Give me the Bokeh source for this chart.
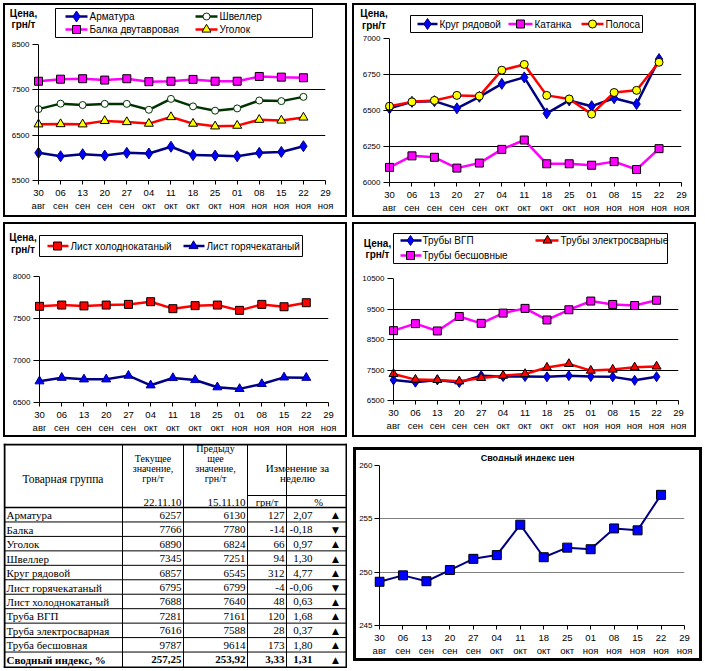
from bokeh.plotting import figure
from bokeh.layouts import row, column
from bokeh.models import Range1d, FixedTicker, Spacer, Plot, Span
from bokeh.core.properties import value
from bokeh.embed import file_html
from bokeh.resources import INLINE

# ---------------- data ----------------
dates = ["30\nавг", "06\nсен", "13\nсен", "20\nсен", "27\nсен", "04\nокт", "11\nокт",
         "18\nокт", "25\nокт", "01\nноя", "08\nноя", "15\nноя", "22\nноя", "29\nноя"]

armatura = [6110, 6035, 6080, 6050, 6110, 6095, 6245, 6060, 6050, 6035, 6110, 6130, 6257]
shveller = [7075, 7195, 7165, 7190, 7190, 7060, 7300, 7135, 7040, 7090, 7265, 7251, 7345]
balka = [7690, 7735, 7745, 7715, 7745, 7680, 7690, 7730, 7690, 7690, 7795, 7780, 7766]
ugolok = [6740, 6745, 6740, 6815, 6790, 6755, 6900, 6755, 6695, 6710, 6840, 6824, 6890]

krug = [6515, 6560, 6565, 6515, 6595, 6685, 6730, 6480, 6570, 6530, 6585, 6545, 6857]
katanka = [6105, 6185, 6175, 6100, 6135, 6230, 6295, 6130, 6130, 6120, 6145, 6090, 6235]
polosa = [6530, 6560, 6570, 6605, 6600, 6780, 6820, 6605, 6580, 6475, 6625, 6640, 6835]

list_hol = [7645, 7660, 7650, 7660, 7668, 7700, 7617, 7653, 7660, 7597, 7668, 7640, 7688]
list_gor = [6753, 6795, 6776, 6776, 6820, 6705, 6792, 6768, 6682, 6662, 6721, 6799, 6795]

truby_vgp = [7175, 7100, 7175, 7090, 7315, 7285, 7285, 7275, 7315, 7285, 7275, 7161, 7281]
truby_el = [7370, 7185, 7175, 7130, 7240, 7315, 7370, 7580, 7700, 7480, 7515, 7588, 7616]
truby_bes = [8790, 9020, 8780, 9255, 9030, 9365, 9520, 9140, 9475, 9760, 9650, 9614, 9787]

index_vals = [249.1, 249.7, 249.15, 250.2, 251.25, 251.6, 254.45, 251.4, 252.3, 252.15, 254.1, 253.92, 257.25]

table_names = ["Арматура", "Балка", "Уголок", "Швеллер", "Круг рядовой", "Лист горячекатаный",
               "Лист холоднокатаный", "Труба ВГП", "Труба электросварная", "Труба бесшовная"]
table_cur = [6257, 7766, 6890, 7345, 6857, 6795, 7688, 7281, 7616, 9787]
table_prev = [6130, 7780, 6824, 7251, 6545, 6799, 7640, 7161, 7588, 9614]
table_diff = [127, -14, 66, 94, 312, -4, 48, 120, 28, 173]
table_pct = [2.07, -0.18, 0.97, 1.30, 4.77, -0.06, 0.63, 1.68, 0.37, 1.80]
summary_name = "Сводный индекс, %"
summary_vals = [257.25, 253.92, 3.33, 1.31]
date_cur = "22.11.10"
date_prev = "15.11.10"

xs = list(range(len(armatura)))
NX = len(dates) - 1

NAVY = "#000080"
BLUE = "#0000FF"
MAG = "#FF00FF"
RED = "#FF0000"
YEL = "#FFFF00"
DGREEN = "#003300"
FONT = "Liberation Sans"

HAS_FA = "frame_align" in Plot.properties()
EXTRA = {"frame_align": False} if HAS_FA else {}

# series styles: line colour, marker, fill, marker outline, size
S_ARM = (NAVY, "diamond", BLUE, NAVY, 11)
S_SHV = (DGREEN, "circle", "white", DGREEN, 7)
S_BAL = (MAG, "square", MAG, "black", 8)
S_UGO = (RED, "triangle", YEL, "black", 9)
S_KRU = (NAVY, "diamond", BLUE, NAVY, 11)
S_KAT = (MAG, "square", MAG, "black", 8)
S_POL = (RED, "circle", YEL, "black", 8)
S_LHO = (RED, "square", RED, "black", 8)
S_LGO = (NAVY, "triangle", BLUE, NAVY, 9)
S_TVG = (NAVY, "diamond", BLUE, NAVY, 10)
S_TEL = (RED, "triangle", RED, "black", 9)
S_TBE = (MAG, "square", MAG, "black", 8)


def make_chart(w, h, ylo, yhi, yticks, grid, bl, br, bt, bb, grid_color="black", shift=6, standoff=3):
    # the frame starts `shift` px left of x=0 so the first markers are drawn whole;
    # the y axis line is drawn at x=0 and the ticks reach from the frame edge to it
    ppu = (w - bl - br) / NX
    p = figure(width=w, height=h, x_range=Range1d(-shift / ppu, NX), y_range=Range1d(ylo, yhi),
               output_backend="svg", toolbar_location=None,
               min_border_left=bl - shift, min_border_right=br, min_border_top=bt, min_border_bottom=bb,
               **EXTRA)
    p.xaxis.ticker = FixedTicker(ticks=list(range(NX + 1)))
    p.xaxis.major_label_overrides = {i: d for i, d in enumerate(dates)}
    p.xaxis.bounds = (0, NX)
    p.yaxis.ticker = FixedTicker(ticks=yticks)
    p.xgrid.visible = False
    p.ygrid.ticker = FixedTicker(ticks=grid)
    p.ygrid.grid_line_color = grid_color
    p.ygrid.grid_line_width = 1
    p.outline_line_color = None
    p.axis.minor_tick_line_color = None
    p.axis.major_tick_line_color = "black"
    p.xaxis.axis_line_color = "black"
    p.yaxis.axis_line_color = None
    p.xaxis.major_tick_in = 0
    p.xaxis.major_tick_out = 4
    p.yaxis.major_tick_out = 0
    p.yaxis.major_tick_in = shift
    p.axis.major_label_text_font = FONT
    p.axis.major_label_text_color = "black"
    p.xaxis.major_label_text_font_size = "9.5px"
    p.yaxis.major_label_text_font_size = "8px"
    p.xaxis.major_label_standoff = 2
    p.yaxis.major_label_standoff = standoff
    p.background_fill_color = "white"
    p.border_fill_color = "white"
    p.add_layout(Span(location=0, dimension="height", line_color="black", line_width=1))
    return p


def series(p, ys, st, lw=2.5):
    lc, mk, fc, mlc, sz = st
    p.line(xs, ys, line_color=lc, line_width=lw)
    p.scatter(xs, ys, marker=mk, size=sz, fill_color=fc, line_color=mlc, line_width=1)


def make_header(w, h):
    p = figure(width=w, height=h, x_range=Range1d(0, w), y_range=Range1d(h, 0),
               output_backend="svg", toolbar_location=None,
               min_border_left=0, min_border_right=0, min_border_top=0, min_border_bottom=0, **EXTRA)
    p.axis.visible = False
    p.grid.visible = False
    p.outline_line_color = None
    p.background_fill_color = "white"
    p.border_fill_color = "white"
    return p


def price_label(p, cx, y1, y2):
    p.text(x=[cx, cx], y=[y1, y2], text=["Цена,", "грн/т"], text_font=value(FONT),
           text_font_size="10px", text_font_style="bold", text_align="center",
           text_baseline="middle", text_color="black")


def legend_box(p, l, r, t, b):
    p.quad(left=[l], right=[r], top=[t], bottom=[b], fill_color="white", line_color="black", line_width=1)


def legend_entry(p, st, x0, x1, xm, y, label, xl):
    lc, mk, fc, mlc, sz = st
    p.segment(x0=[x0], y0=[y], x1=[x1], y1=[y], line_color=lc, line_width=2.5)
    p.scatter(x=[xm], y=[y], marker=mk, size=sz, fill_color=fc, line_color=mlc, line_width=1)
    p.text(x=[xl], y=[y], text=[label], text_font=value(FONT), text_font_size="10px",
           text_align="left", text_baseline="middle", text_color="black")


def bar(w, h):
    return Spacer(width=w, height=h, styles={"background-color": "black"})


def panel(children, W, H, b=2):
    inner = column(*children)
    mid = row(bar(b, H - 2 * b), inner, bar(b, H - 2 * b))
    return column(bar(W, b), mid, bar(W, b))


# ---------------- chart 1 ----------------
h1 = make_header(340, 34)
price_label(h1, 18, 7.5, 19)
legend_box(h1, 50, 307, 3, 32)
legend_entry(h1, S_ARM, 60, 82, 71, 11, "Арматура", 84)
legend_entry(h1, S_BAL, 60, 82, 71, 24, "Балка двутавровая", 84)
legend_entry(h1, S_SHV, 190, 212, 201, 11, "Швеллер", 214)
legend_entry(h1, S_UGO, 190, 212, 201, 24, "Уголок", 214)
p1 = make_chart(340, 176, 5500, 8500, [5500, 6500, 7500, 8500], [6500, 7500], 33, 20, 5, 35)
series(p1, armatura, S_ARM)
series(p1, shveller, S_SHV)
series(p1, balka, S_BAL)
series(p1, ugolok, S_UGO)
P1 = panel([h1, p1], 344, 214)

# ---------------- chart 2 ----------------
h2 = make_header(340, 28)
price_label(h2, 19.5, 8, 19.5)
legend_box(h2, 56, 288, 10, 27)
legend_entry(h2, S_KRU, 63, 83, 73, 18.5, "Круг рядовой", 85)
legend_entry(h2, S_KAT, 154, 178, 166, 18.5, "Катанка", 180)
legend_entry(h2, S_POL, 227, 249, 238, 18.5, "Полоса", 251)
p2 = make_chart(340, 182, 6000, 7000, [6000, 6250, 6500, 6750, 7000], [6250, 6500, 6750], 35, 13, 5, 32)
series(p2, krug, S_KRU)
series(p2, katanka, S_KAT)
series(p2, polosa, S_POL)
P2 = panel([h2, p2], 344, 214)

# ---------------- chart 3 ----------------
h3 = make_header(340, 42)
price_label(h3, 17.5, 13, 24.5)
legend_box(h3, 34, 297, 11, 32)
legend_entry(h3, S_LHO, 42, 63, 52, 21.5, "Лист холоднокатаный", 65)
legend_entry(h3, S_LGO, 178, 199, 188, 21.5, "Лист горячекатаный", 201)
p3 = make_chart(340, 169, 6500, 8000, [6500, 7000, 7500, 8000], [7000, 7500], 34, 17, 10, 32)
series(p3, list_hol, S_LHO)
series(p3, list_gor, S_LGO)
P3 = panel([h3, p3], 344, 215)

# ---------------- chart 4 ----------------
h4 = make_header(340, 44)
price_label(h4, 23, 18.5, 29.5)
legend_box(h4, 39, 313, 9, 39)
legend_entry(h4, S_TVG, 46, 67, 56, 16, "Трубы ВГП", 68)
legend_entry(h4, S_TEL, 181, 204, 193, 16, "Трубы электросварные", 206)
legend_entry(h4, S_TBE, 46, 67, 56, 31, "Трубы бесшовные", 68)
p4 = make_chart(340, 167, 6500, 10500, [6500, 7500, 8500, 9500, 10500], [7500, 8500, 9500], 39, 16, 10, 35)
series(p4, truby_vgp, S_TVG)
series(p4, truby_el, S_TEL)
series(p4, truby_bes, S_TBE)
P4 = panel([h4, p4], 344, 215)

# ---------------- index chart ----------------
h6 = make_header(343, 11)
h6.text(x=[171], y=[6], text=["Сводный индекс цен"], text_font=value(FONT), text_font_size="9px",
        text_font_style="bold", text_align="center", text_baseline="middle", text_color="black")
p6 = make_chart(343, 197, 245, 260, [245, 250, 255, 260], [250, 255], 23, 15, 4, 30, grid_color="#808080",
                shift=5, standoff=2)
p6.line(xs, index_vals, line_color=NAVY, line_width=2)
p6.scatter(xs, index_vals, marker="square", size=9, fill_color=BLUE, line_color="black", line_width=1)
P6 = panel([h6, p6], 349, 214, b=3)

# ---------------- table ----------------
TW, TH = 344, 225
t = make_header(TW, TH)
cx = [119, 180, 244, 283]
sub_y = 52
head_y = 64
nrows = len(table_names) + 1
rh = (TH - 2 - head_y) / nrows

t.segment(x0=cx, y0=[1] * 4, x1=cx, y1=[TH - 1] * 4, line_color="black", line_width=1)
t.segment(x0=[cx[2]], y0=[sub_y], x1=[TW - 1], y1=[sub_y], line_color="black", line_width=1)
ry = [head_y + i * rh for i in range(1, nrows)]
t.segment(x0=[1] * len(ry), y0=ry, x1=[TW - 1] * len(ry), y1=ry, line_color="black", line_width=1)
t.segment(x0=[1], y0=[head_y], x1=[TW - 1], y1=[head_y], line_color="black", line_width=1.5)
# outer frame
t.segment(x0=[0, 0, 1, TW - 1], y0=[1, TH - 1, 0, 0], x1=[TW, TW, 1, TW - 1], y1=[1, TH - 1, TH, TH],
          line_color="black", line_width=2)

serif = value("Liberation Serif")
t.text(x=[cx[0] / 2], y=[35], text=["Товарная группа"], text_font=serif, text_font_size="11.5px",
       text_align="center", text_baseline="middle")
t.text(x=[(cx[0] + cx[1]) / 2] * 3, y=[15, 25, 35], text=["Текущее", "значение,", "грн/т"],
       text_font=serif, text_font_size="10px", text_align="center", text_baseline="middle")
t.text(x=[(cx[1] + cx[2]) / 2] * 4, y=[5, 14.5, 25, 34.5], text=["Предыду", "щее", "значение,", "грн/т"],
       text_font=serif, text_font_size="10px", text_align="center", text_baseline="middle")
t.text(x=[(cx[2] + TW) / 2] * 2, y=[24, 34], text=["Изменение за", "неделю"],
       text_font=serif, text_font_size="11px", text_align="center", text_baseline="middle")
t.text(x=[cx[1] - 2, cx[2] - 2], y=[59, 59], text=[date_cur, date_prev], text_font=serif,
       text_font_size="11px", text_align="right", text_baseline="middle")
t.text(x=[(cx[2] + cx[3]) / 2, 315], y=[59, 59], text=["грн/т", "%"], text_font=serif,
       text_font_size="10.5px", text_align="center", text_baseline="middle")

row_c = [head_y + (i + 0.5) * rh + 0.5 for i in range(len(table_names))]
fmt = lambda v: f"{v:.2f}".replace(".", ",")
n = len(row_c)
t.text(x=[3] * n, y=row_c, text=table_names, text_font=serif, text_font_size="11px",
       text_align="left", text_baseline="middle")
t.text(x=[cx[1] - 2] * n, y=row_c, text=[str(v) for v in table_cur], text_font=serif,
       text_font_size="11px", text_align="right", text_baseline="middle")
t.text(x=[cx[2] - 2] * n, y=row_c, text=[str(v) for v in table_prev], text_font=serif,
       text_font_size="11px", text_align="right", text_baseline="middle")
t.text(x=[cx[3] - 2] * n, y=row_c, text=[str(v) for v in table_diff], text_font=serif,
       text_font_size="11px", text_align="right", text_baseline="middle")
t.text(x=[309] * n, y=row_c, text=[fmt(v) for v in table_pct], text_font=serif,
       text_font_size="11px", text_align="right", text_baseline="middle")
t.text(x=[332] * n, y=row_c, text=["▲" if v >= 0 else "▼" for v in table_pct],
       text_font=value("DejaVu Sans"), text_font_size="9px", text_align="center", text_baseline="middle")
sy = head_y + (nrows - 0.5) * rh + 0.5
t.text(x=[3], y=[sy], text=[summary_name], text_font=serif, text_font_size="11px",
       text_font_style="bold", text_align="left", text_baseline="middle")
t.text(x=[cx[1] - 2, cx[2] - 2, cx[3] - 2, 309], y=[sy] * 4, text=[fmt(v) for v in summary_vals],
       text_font=serif, text_font_size="11px", text_font_style="bold", text_align="right",
       text_baseline="middle")
t.text(x=[332], y=[sy], text=["▲" if summary_vals[3] >= 0 else "▼"], text_font=value("DejaVu Sans"),
       text_font_size="9px", text_align="center", text_baseline="middle")

layout = column(
    Spacer(height=3),
    row(Spacer(width=3), P1, Spacer(width=5), P2),
    Spacer(height=5),
    row(Spacer(width=3), P3, Spacer(width=5), P4),
    Spacer(height=6),
    row(Spacer(width=3), t, Spacer(width=6), column(Spacer(height=4), P6)),
)

open("out.html", "w").write(file_html(layout, INLINE))
